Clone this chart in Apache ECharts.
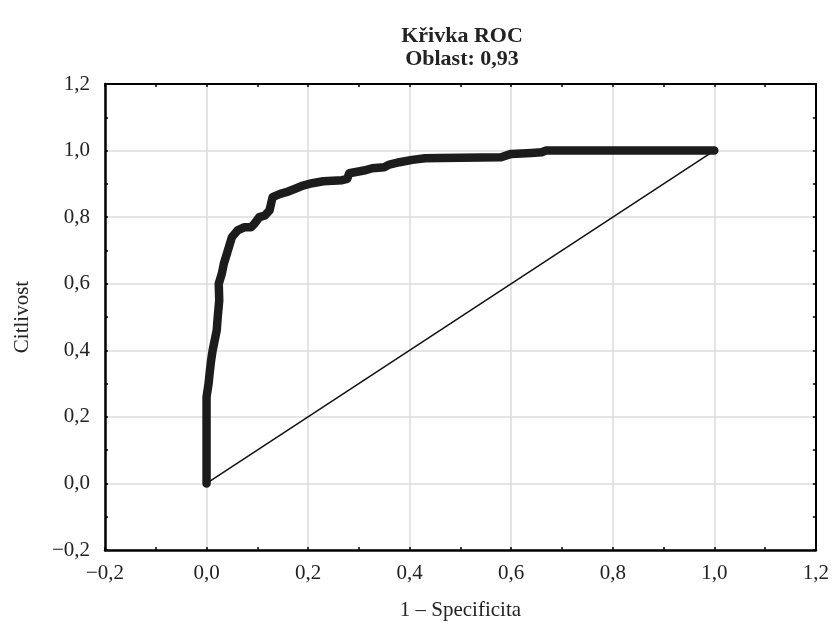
<!DOCTYPE html>
<html>
<head>
<meta charset="utf-8">
<script src="https://cdn.jsdelivr.net/npm/echarts@6/dist/echarts.min.js"></script>
<style>html,body{margin:0;padding:0;background:#fff;}#c{width:832px;height:626px;}</style>
</head>
<body>
<div id="c"></div>
<script>
const titleText = 'Křivka ROC';
const subTitleText = 'Oblast: 0,93';
const xName = '1 – Specificita';
const yName = 'Citlivost';
const rocX = [0, 0, 0.004, 0.006, 0.009, 0.012, 0.016, 0.02, 0.022, 0.025, 0.024, 0.03, 0.034, 0.04, 0.046, 0.05, 0.061, 0.075, 0.088, 0.094, 0.104, 0.115, 0.124, 0.127, 0.13, 0.145, 0.157, 0.177, 0.19, 0.208, 0.23, 0.267, 0.277, 0.281, 0.31, 0.326, 0.35, 0.36, 0.38, 0.405, 0.43, 0.46, 0.58, 0.6, 0.64, 0.66, 0.668, 0.8, 1.0];
const rocY = [0, 0.26, 0.3, 0.33, 0.37, 0.40, 0.43, 0.46, 0.5, 0.55, 0.6, 0.63, 0.66, 0.69, 0.72, 0.74, 0.76, 0.77, 0.77, 0.78, 0.80, 0.805, 0.82, 0.84, 0.86, 0.87, 0.875, 0.887, 0.895, 0.902, 0.908, 0.911, 0.915, 0.932, 0.94, 0.947, 0.95, 0.958, 0.965, 0.972, 0.977, 0.978, 0.98, 0.99, 0.993, 0.995, 1.0, 1.0, 1.0];
const diagX = [0, 1];
const diagY = [0, 1];
const axisMin = -0.2, axisMax = 1.2, axisStep = 0.2;

const fmt = v => (v < -1e-9 ? '−' : '') + Math.abs(v).toFixed(1).replace('.', ',');
const font = 'Liberation Serif';
const zip = (a, b) => a.map((v, i) => [v, b[i]]);

const baseAxis = {
  type: 'value', min: axisMin, max: axisMax, interval: axisStep,
  axisTick: { show: true, inside: true, length: 3, lineStyle: { color: '#000', width: 1.5 } },
  minorTick: { show: true, splitNumber: 2, length: 3, lineStyle: { color: '#000', width: 1.5 } },
  splitLine: { show: false },
};
const mainAxisLabel = { color: '#222', fontFamily: font, fontSize: 21, formatter: fmt };

const chart = echarts.init(document.getElementById('c'), null, { renderer: 'canvas' });
chart.setOption({
  backgroundColor: '#fff',
  animation: false,
  title: {
    text: titleText + '\n' + subTitleText,
    left: 462, textAlign: 'center', top: 25, padding: 0,
    textStyle: { fontFamily: font, fontWeight: 'bold', fontSize: 22, lineHeight: 23, color: '#222' }
  },
  grid: { left: 105, right: 14, top: 84, bottom: 75 },
  xAxis: [
    Object.assign({}, baseAxis, {
      position: 'bottom',
      axisLine: { show: true, onZero: false, lineStyle: { color: '#000', width: 2.5 } },
      axisLabel: Object.assign({ margin: 13 }, mainAxisLabel),
      splitLine: { show: true, lineStyle: { color: '#dcdcdc', width: 1.5 } },
      name: xName, nameLocation: 'middle', nameGap: 50,
      nameTextStyle: { fontFamily: font, fontSize: 21, color: '#222' }
    }),
    Object.assign({}, baseAxis, {
      position: 'top',
      axisLine: { show: true, onZero: false, lineStyle: { color: '#000', width: 2 } },
      axisLabel: { show: false }
    })
  ],
  yAxis: [
    Object.assign({}, baseAxis, {
      position: 'left',
      axisLine: { show: true, onZero: false, lineStyle: { color: '#000', width: 2.5 } },
      axisLabel: Object.assign({ margin: 15 }, mainAxisLabel),
      splitLine: { show: true, lineStyle: { color: '#dcdcdc', width: 1.5 } },
      name: yName, nameLocation: 'middle', nameGap: 72,
      nameTextStyle: { fontFamily: font, fontSize: 21, color: '#222' }
    }),
    Object.assign({}, baseAxis, {
      position: 'right',
      axisLine: { show: true, onZero: false, lineStyle: { color: '#000', width: 2 } },
      axisLabel: { show: false }
    })
  ],
  series: [
    {
      type: 'line', data: zip(diagX, diagY), showSymbol: false, silent: true,
      lineStyle: { color: '#111', width: 1.5 }, z: 2
    },
    {
      type: 'line', data: zip(rocX, rocY), showSymbol: false, silent: true,
      lineStyle: { color: '#1c1c1c', width: 8.5, cap: 'round', join: 'round' }, z: 3
    }
  ]
});
</script>
</body>
</html>
